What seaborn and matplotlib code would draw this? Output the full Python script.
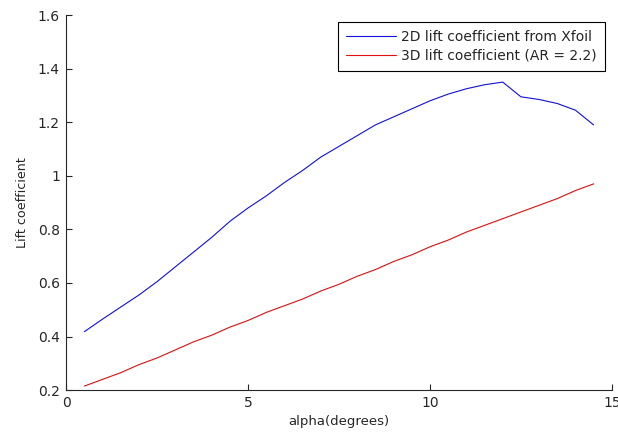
import numpy as np
import pandas as pd
import seaborn as sns
import matplotlib
matplotlib.use("Agg")
import matplotlib.pyplot as plt

# angle of attack (degrees)
alpha = [0.5, 1.0, 1.5, 2.0, 2.5, 3.0, 3.5, 4.0, 4.5, 5.0, 5.5, 6.0, 6.5, 7.0, 7.5,
         8.0, 8.5, 9.0, 9.5, 10.0, 10.5, 11.0, 11.5, 12.0, 12.5, 13.0, 13.5, 14.0, 14.5]

# 2D lift coefficient (Xfoil)
cl_2d = [0.418, 0.465, 0.51, 0.555, 0.605, 0.66, 0.715, 0.77, 0.83, 0.88, 0.925, 0.975,
         1.02, 1.07, 1.11, 1.15, 1.19, 1.22, 1.25, 1.28, 1.305, 1.325, 1.34, 1.35,
         1.295, 1.285, 1.27, 1.245, 1.19]

# 3D lift coefficient, AR = 2.2
cl_3d = [0.215, 0.24, 0.265, 0.295, 0.32, 0.35, 0.38, 0.405, 0.435, 0.46, 0.49, 0.515,
         0.54, 0.57, 0.595, 0.625, 0.65, 0.68, 0.705, 0.735, 0.76, 0.79, 0.815, 0.84,
         0.865, 0.89, 0.915, 0.945, 0.97]

labels = ["2D lift coefficient from Xfoil", "3D lift coefficient (AR = 2.2)"]

df = pd.DataFrame({
    "alpha": alpha * 2,
    "cl": cl_2d + cl_3d,
    "series": [labels[0]] * len(alpha) + [labels[1]] * len(alpha),
})

sns.set_style("ticks")
plt.rcParams["font.family"] = ["DejaVu Sans"]

fig = plt.figure(figsize=(6.18, 4.32), dpi=100)
ax = fig.add_axes([0.107, 0.097, 0.883, 0.868])

sns.lineplot(data=df, x="alpha", y="cl", hue="series",
             palette={labels[0]: "#1010e0", labels[1]: "#e01010"},
             linewidth=0.8, ax=ax)

ax.set_xlim(0, 15)
ax.set_ylim(0.2, 1.6)
ax.set_xticks([0, 5, 10, 15])
ax.set_yticks([0.2, 0.4, 0.6, 0.8, 1.0, 1.2, 1.4, 1.6])
ax.set_yticklabels(["0.2", "0.4", "0.6", "0.8", "1", "1.2", "1.4", "1.6"])
ax.tick_params(direction="in", length=4, width=0.8, pad=4.5, labelsize=10,
               colors="#262626", labelcolor="#262626")
for s in ["top", "right"]:
    ax.spines[s].set_visible(False)
for s in ["left", "bottom"]:
    ax.spines[s].set_linewidth(0.8)
    ax.spines[s].set_color("#262626")

ax.set_xlabel("alpha(degrees)", fontsize=9.5, labelpad=3)
ax.set_ylabel("Lift coefficient", fontsize=9.2, labelpad=6)

leg = ax.legend(loc="upper right", bbox_to_anchor=(0.988, 0.982), borderaxespad=0,
                fontsize=10, fancybox=False, framealpha=1, edgecolor="black",
                handlelength=3.6, handletextpad=0.36, borderpad=0.6, labelspacing=0.3,
                title=None)
leg.get_frame().set_linewidth(0.8)

fig.savefig("out.png", dpi=100)
